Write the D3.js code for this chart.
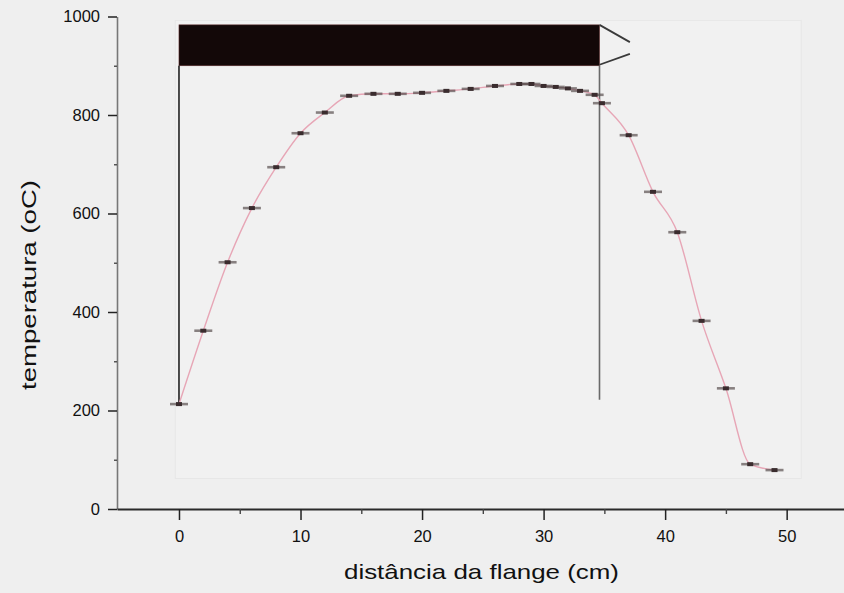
<!DOCTYPE html>
<html>
<head>
<meta charset="utf-8">
<script src="https://cdn.jsdelivr.net/npm/d3@7"></script>
<style>
  html, body { margin: 0; padding: 0; background: #efefef; }
  svg { display: block; font-family: "Liberation Sans", Arial, sans-serif; }
</style>
</head>
<body>
<svg id="chart" width="844" height="593"></svg>
<script>
// Temperature profile along the furnace tube, measured from the flange
const distance = [0, 2, 4, 6, 8, 10, 12, 14, 16, 18, 20, 22, 24, 26, 28, 29, 30, 31, 32, 33, 34.2, 34.8, 37, 39, 41, 43, 45, 47, 49];
const temperature = [213, 362, 501, 611, 694, 763, 805, 839, 843, 843, 845, 849, 853, 859, 863, 863, 859, 857, 854, 849, 841, 824, 759, 644, 562, 382, 245, 91, 79];

const xTicks = [0, 10, 20, 30, 40, 50];
const xMinorTicks = [5, 15, 25, 35, 45, 55];
const yTicks = [0, 200, 400, 600, 800, 1000];
const yMinorTicks = [100, 300, 500, 700, 900];

// Heated zone of the furnace (cm along the tube, temperature band it is drawn in)
const zoneStart = [0];
const zoneEnd = [34.6];
const zoneBand = [900, 983];
const zoneLeftFoot = [213];
const zoneRightFoot = [222];
const arrowTip = [37.1];
const arrowBand = [948, 924];

const xTitle = "distância da flange (cm)";
const yTitle = "temperatura (oC)";

const svg = d3.select("#chart");

const x = d3.scaleLinear().domain([-5.1, 54.8]).range([117, 845]);
const y = d3.scaleLinear().domain([0, 1000]).range([509, 16.5]);

// faint plot frame
svg.append("rect")
  .attr("x", x(-0.3)).attr("y", y(992))
  .attr("width", x(51.2) - x(-0.3)).attr("height", y(62) - y(992))
  .attr("fill", "#f1f1f1").attr("stroke", "#e7e7e7").attr("stroke-width", 1);

// heated zone bar
svg.append("rect")
  .attr("x", x(zoneStart[0])).attr("y", y(zoneBand[1]))
  .attr("width", x(zoneEnd[0]) - x(zoneStart[0]))
  .attr("height", y(zoneBand[0]) - y(zoneBand[1]))
  .attr("fill", "#130808").attr("stroke", "#5a2a2a").attr("stroke-width", 0.6);

// open arrow head at the end of the bar
svg.append("path")
  .attr("d", `M${x(zoneEnd[0])},${y(zoneBand[1])} L${x(arrowTip[0])},${y(arrowBand[0])}
              M${x(zoneEnd[0])},${y(zoneBand[0]) - 1} L${x(arrowTip[0])},${y(arrowBand[1])}`)
  .attr("stroke", "#3a3a3a").attr("stroke-width", 1.8).attr("fill", "none");

// zone boundaries
svg.append("line")
  .attr("x1", x(zoneStart[0])).attr("x2", x(zoneStart[0]))
  .attr("y1", y(zoneBand[0])).attr("y2", y(zoneLeftFoot[0]))
  .attr("stroke", "#222").attr("stroke-width", 1.6);
svg.append("line")
  .attr("x1", x(zoneEnd[0])).attr("x2", x(zoneEnd[0]))
  .attr("y1", y(zoneBand[0])).attr("y2", y(zoneRightFoot[0]))
  .attr("stroke", "#6a6a6a").attr("stroke-width", 1.6);

// profile curve
const pts = distance.map((d, i) => [d, temperature[i]]);
svg.append("path")
  .datum(pts)
  .attr("fill", "none")
  .attr("stroke", "#e7a6b6")
  .attr("stroke-width", 1.4)
  .attr("d", d3.line().x(d => x(d[0])).y(d => y(d[1])).curve(d3.curveMonotoneX));

// markers
const mk = svg.append("g");
mk.selectAll("line.m").data(pts).join("line")
  .attr("x1", d => x(d[0]) - 9).attr("x2", d => x(d[0]) + 9)
  .attr("y1", d => y(d[1])).attr("y2", d => y(d[1]))
  .attr("stroke", "#5a5050").attr("stroke-opacity", 0.7).attr("stroke-width", 2.6);
mk.selectAll("rect.c").data(pts).join("rect")
  .attr("x", d => x(d[0]) - 3).attr("y", d => y(d[1]) - 2)
  .attr("width", 6).attr("height", 4)
  .attr("fill", "#3a2c2e");

// y axis
const yAxis = svg.append("g").attr("transform", `translate(${x(-5.1)},0)`)
  .call(d3.axisLeft(y).tickValues(yTicks).tickSize(9).tickPadding(8).tickSizeOuter(0).tickFormat(d3.format("d")));
yAxis.select(".domain").attr("stroke", "#777").attr("stroke-width", 1.6);
yAxis.selectAll(".tick line").attr("stroke", "#222").attr("stroke-width", 1.5);
yAxis.selectAll(".tick text").attr("font-size", 16.5).attr("fill", "#111")
  .attr("font-family", "Liberation Sans, Arial, sans-serif");
const yMinor = svg.append("g").attr("transform", `translate(${x(-5.1)},0)`)
  .call(d3.axisLeft(y).tickValues(yMinorTicks).tickSize(3).tickFormat(""));
yMinor.select(".domain").remove();
yMinor.selectAll(".tick line").attr("stroke", "#555").attr("stroke-width", 1.5);

// x axis
const xAxis = svg.append("g").attr("transform", `translate(0,${y(0)})`)
  .call(d3.axisBottom(x).tickValues(xTicks).tickSize(11).tickPadding(10).tickSizeOuter(0).tickFormat(d3.format("d")));
xAxis.select(".domain").attr("stroke", "#2a2a2a").attr("stroke-width", 2);
xAxis.selectAll(".tick line").attr("stroke", "#222").attr("stroke-width", 1.5);
xAxis.selectAll(".tick text").attr("font-size", 16.5).attr("fill", "#111")
  .attr("font-family", "Liberation Sans, Arial, sans-serif");
const xMinor = svg.append("g").attr("transform", `translate(0,${y(0)})`)
  .call(d3.axisBottom(x).tickValues(xMinorTicks).tickSize(5).tickFormat(""));
xMinor.select(".domain").remove();
xMinor.selectAll(".tick line").attr("stroke", "#444").attr("stroke-width", 1.4);

// axis titles
svg.append("text")
  .attr("x", 481.5).attr("y", 579)
  .attr("text-anchor", "middle")
  .attr("font-size", 21).attr("fill", "#111")
  .attr("textLength", 275).attr("lengthAdjust", "spacingAndGlyphs")
  .text(xTitle);
svg.append("text")
  .attr("transform", "translate(36,285) rotate(-90)")
  .attr("text-anchor", "middle")
  .attr("font-size", 21).attr("fill", "#111")
  .attr("textLength", 210).attr("lengthAdjust", "spacingAndGlyphs")
  .text(yTitle);
</script>
</body>
</html>
